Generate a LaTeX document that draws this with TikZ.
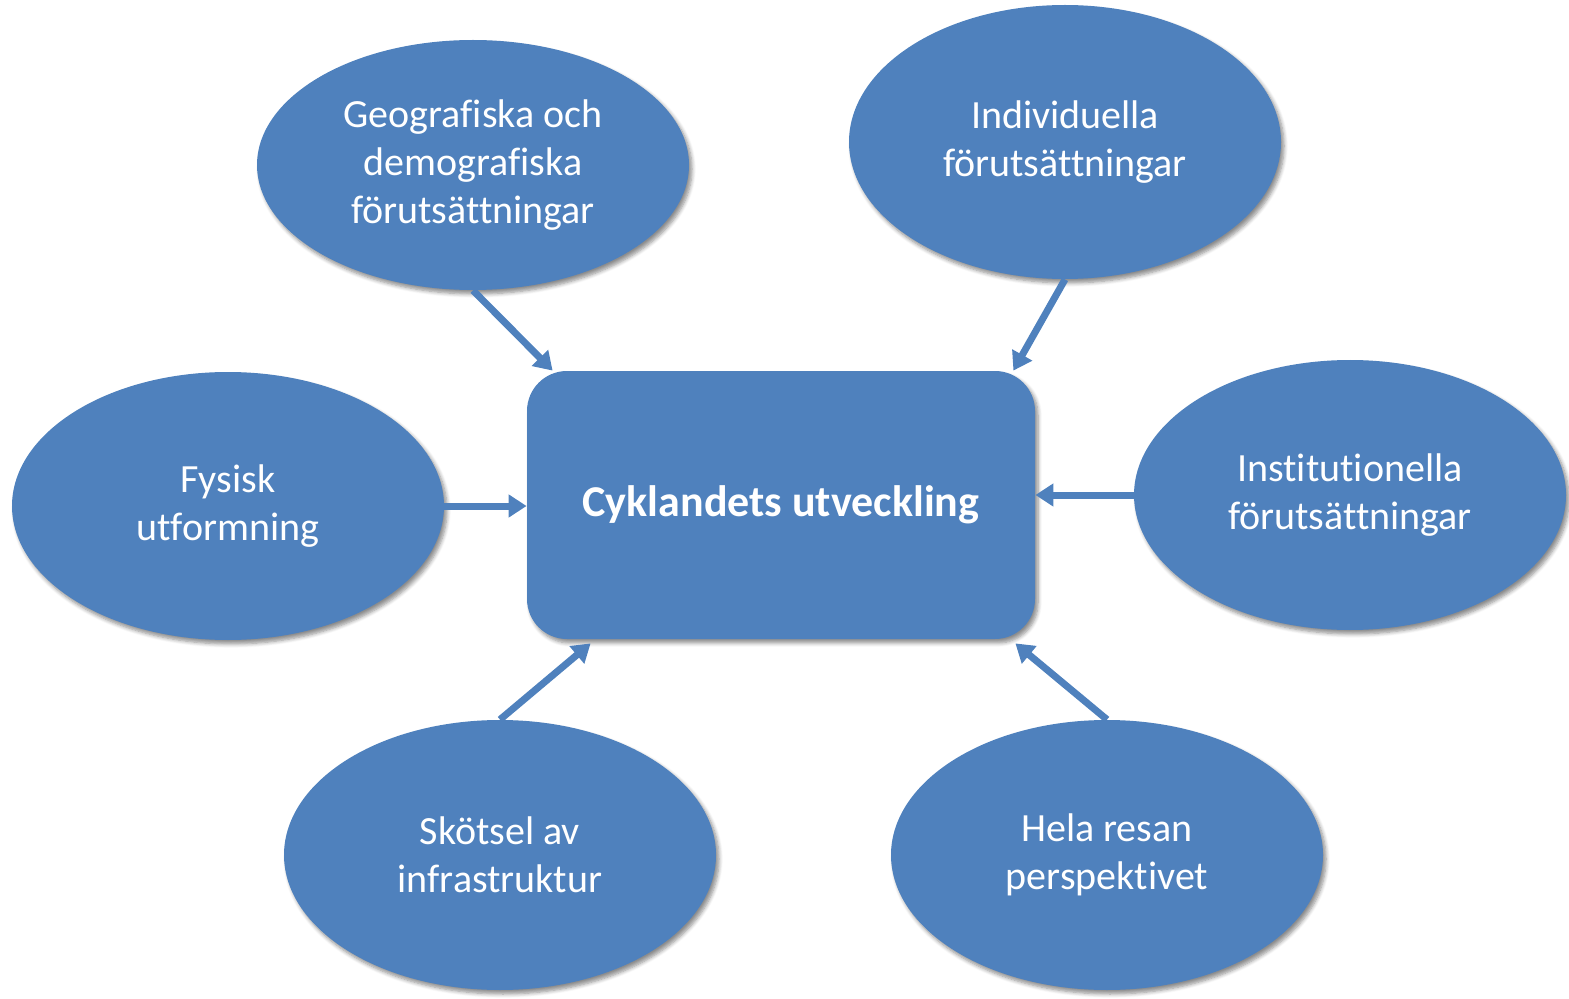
\documentclass[tikz,border=0pt]{standalone}
\usepackage{fontspec}
\setmainfont{Carlito}[RawFeature={-liga;-clig;-calt;-dlig}]
\usetikzlibrary{shapes.geometric,arrows.meta,shadows.blur}
\definecolor{officeblue}{RGB}{79,129,189}
\tikzset{
  bubble/.style={ellipse, fill=officeblue, text=white, inner sep=0pt, minimum width=216pt, align=center,
    font=\fontsize{20}{24}\selectfont, blur shadow={shadow xshift=1.5pt, shadow yshift=-2pt, shadow blur steps=6, shadow opacity=45}},
  centrebox/.style={rectangle, rounded corners=20pt, fill=officeblue, text=white, minimum width=254pt, minimum height=134pt,
    font=\fontsize{22}{24}\selectfont\bfseries, blur shadow={shadow xshift=1.5pt, shadow yshift=-2pt, shadow blur steps=6, shadow opacity=45}},
  feed/.style={draw=officeblue, line width=3.5pt, -{Triangle[width=11pt,length=9pt]}}
}
\begin{document}
\begin{tikzpicture}[x=0.5pt,y=0.5pt]
\useasboundingbox (0,0) rectangle (1569,998);

%Shape: Rounded Rectangle
\node[centrebox] (utv) at (781,493) {Cyklandets utveckling};

%Shape: Ellipse
\node[bubble, minimum height=125pt] (geo) at (473,833) {Geografiska och\\demografiska\\förutsättningar};
%Shape: Ellipse
\node[bubble, minimum height=137pt] (ind) at (1065,856) {Individuella\\förutsättningar};
%Shape: Ellipse
\node[bubble, minimum height=134pt] (fys) at (228,492) {Fysisk\\utformning};
%Shape: Ellipse
\node[bubble, minimum height=135pt] (inst) at (1350,503) {Institutionella\\förutsättningar};
%Shape: Ellipse
\node[bubble, minimum height=135pt] (skot) at (500,143) {Skötsel av\\infrastruktur};
%Shape: Ellipse
\node[bubble, minimum height=135pt] (hela) at (1107,143) {Hela resan\\perspektivet};

%Straight Lines
\draw[feed] (geo.south) -- ([xshift=13pt]utv.north west);
\draw[feed] (ind.south) -- ([xshift=-11pt]utv.north east);
\draw[feed] (fys.east) -- (fys.east -| utv.west);
\draw[feed] (inst.west) -- (inst.west -| utv.east);
\draw[feed] (skot.north) -- ([xshift=32pt,yshift=-2pt]utv.south west);
\draw[feed] (hela.north) -- ([xshift=-10pt,yshift=-2pt]utv.south east);

\end{tikzpicture}
\end{document}
